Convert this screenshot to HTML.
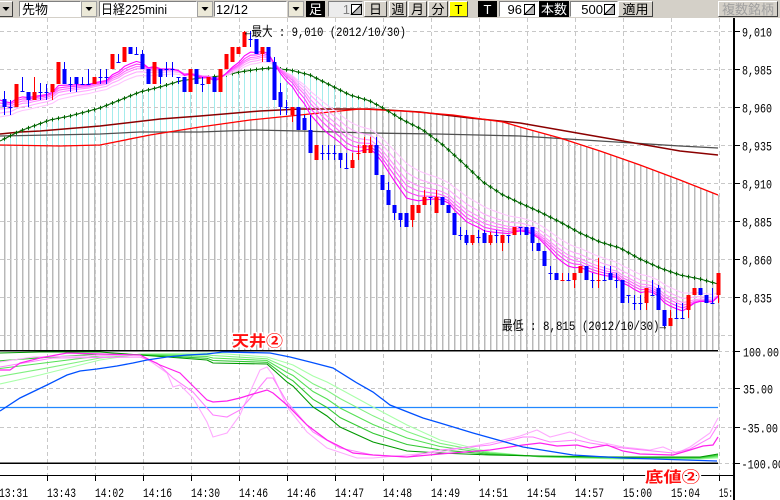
<!DOCTYPE html>
<html><head><meta charset="utf-8">
<style>
html,body{margin:0;padding:0;background:#fff;}
body{width:780px;height:500px;overflow:hidden;}
svg{display:block;}
.m{font-family:"Liberation Mono","Noto Sans CJK JP",monospace;}
.t{font-family:"Liberation Sans","Noto Sans CJK JP",sans-serif;font-size:13px;}
.lab{font-family:"Liberation Sans","Noto Sans CJK JP",sans-serif;font-weight:bold;font-size:15px;}
</style></head><body>
<svg id="s" xmlns="http://www.w3.org/2000/svg" width="780" height="500" viewBox="0 0 780 500">
<rect width="780" height="500" fill="#fff"/>
<g id="bars" shape-rendering="crispEdges"></g>
<g id="grid" shape-rendering="crispEdges" stroke="#c8c8c8" stroke-dasharray="4 3" fill="none"></g>
<g id="lines" fill="none"></g>
<g id="pink" fill="none"></g>
<g id="cand"></g>
<g id="ind" fill="none"></g>
<g id="axis" shape-rendering="crispEdges"></g>
<g id="txt"></g>
<g id="tb"></g>
</svg>
<script>
const S=document.getElementById('s');
const NS='http://www.w3.org/2000/svg';
function E(t,a,p,txt){const e=document.createElementNS(NS,t);for(const k in a)e.setAttribute(k,a[k]);if(txt!=null)e.textContent=txt;(p||S).appendChild(e);return e;}
function G(id){return document.getElementById(id);}
function I(P,x){if(x<=P[0][0])return P[0][1];for(let i=1;i<P.length;i++){if(x<=P[i][0]){const a=P[i-1],b=P[i];return a[1]+(b[1]-a[1])*(x-a[0])/(b[0]-a[0]);}}return P[P.length-1][1];}
function PL(P){return P.map(p=>(+p[0]).toFixed(1)+','+(+p[1]).toFixed(1)).join(' ');}

/* ---------- data ---------- */
const C=[[99,107,91,115,0],[107,107,100,115,0],[107,84,84,107,1],[91,91,77,92,0],[92,100,92,107,0],[100,92,77,100,1],[92,92,83,100,0],[92,92,84,100,0],[92,84,84,100,1],[84,62,62,84,1],
[69,84,62,84,0],[84,84,77,92,0],[77,84,77,92,0],[84,84,77,84,0],[84,84,69,84,0],[84,77,77,84,1],[77,77,69,84,0],[77,77,69,84,0],[69,54,54,69,1],[62,62,54,62,0],
[62,47,47,62,1],[47,54,47,54,0],[54,54,47,54,0],[54,69,50,69,0],[69,84,69,84,0],[84,62,62,84,1],[69,77,69,84,0],[69,69,62,77,0],[69,69,62,77,0],[77,77,77,84,0],
[77,92,77,92,0],[92,69,69,92,1],[69,84,69,84,0],[84,84,77,92,0],[84,77,77,84,1],[77,92,77,92,0],[92,69,69,92,1],[69,54,54,69,1],[62,47,47,62,1],[54,47,47,54,1],
[47,32,31,47,1],[39,39,31,47,0],[39,54,39,54,0],[54,47,47,62,1],[47,62,47,62,0],[62,100,57,100,0],[92,107,83,115,0],[107,107,100,115,0],[115,107,107,122,1],[107,130,107,130,0],
[118,130,115,130,0],[130,153,115,153,0],[160,145,145,160,1],[153,153,145,160,0],[153,153,145,160,0],[153,153,145,160,0],[153,160,153,168,0],[168,168,153,168,0],[168,160,153,168,1],[153,153,145,160,1],
[153,145,137,153,1],[153,145,137,153,1],[145,175,137,175,0],[175,190,175,190,0],[190,205,182,205,0],[205,213,205,220,0],[213,220,213,227,0],[213,227,213,227,0],[220,205,205,227,1],[213,205,205,213,1],
[205,197,190,205,1],[197,197,197,205,0],[213,197,190,213,1],[197,205,197,205,0],[205,213,205,213,0],[213,235,213,235,0],[235,235,227,240,0],[235,243,230,245,0],[243,235,235,245,1],[237,237,230,243,0],
[233,243,230,243,0],[243,235,232,245,1],[235,235,230,243,0],[243,235,235,251,1],[235,235,235,243,0],[235,227,227,235,1],[227,227,227,235,0],[227,235,227,235,0],[227,243,227,251,0],[243,251,243,251,0],
[251,266,251,266,0],[273,273,266,280,0],[273,280,273,280,0],[280,280,273,280,1],[280,280,273,280,0],[280,273,273,288,1],[273,266,266,273,1],[266,280,266,280,0],[280,280,273,288,0],[280,280,258,288,1],
[280,280,266,280,0],[273,280,266,280,0],[280,280,273,288,0],[280,303,280,303,0],[295,295,295,303,0],[303,303,295,310,0],[303,303,295,310,0],[303,288,288,310,1],[295,295,280,295,0],[288,310,285,310,0],
[310,326,310,327,0],[326,318,310,326,1],[318,318,303,318,0],[318,318,303,318,0],[310,295,295,318,1],[295,288,288,295,1],[288,295,288,295,0],[295,303,295,303,0],[303,303,288,303,0],[295,273,273,303,1]];

const GREEN=[[0,141],[20,131],[50,120],[70,116],[100,108],[120,100],[140,92],[160,87],[180,81],[200,78],[220,76],[240,72],[260,69],[270,68],[290,70],[310,75],[330,85],[350,95],[370,101],[383,108],[403,120],[423,130],[443,145],[463,163],[483,182],[503,195],[520,203],[540,212],[560,222],[580,233],[600,242],[620,248],[640,259],[660,268],[680,275],[700,279],[718,284]];
const DRED=[[0,134],[20,132],[40,131],[100,126],[160,119],[200,116],[260,111],[300,109],[370,109],[420,112],[470,118],[520,123],[560,130],[600,137],[640,144],[680,151],[718,155]];
const RED=[[0,145],[60,146],[100,145],[150,135],[200,127],[250,120],[300,115],[360,109],[403,111],[453,115],[503,122],[520,127],[560,138],[600,151],[640,165],[680,180],[718,195]];
const GRAY=[[0,136],[100,134],[140,132],[200,132],[253,130],[300,131],[370,133],[437,134],[520,136],[600,141],[680,146],[718,148]];

/* ---------- bars ---------- */
const B=G('bars');
for(let i=0;i<120;i++){const x=4+6*i;const r=Math.round(I(RED,x)),g=Math.round(I(GREEN,x));
 E('rect',{x:x,y:r,width:1,height:350-r,fill:'#b8b8b8'},B);
 E('rect',{x:x+1,y:r,width:1,height:350-r,fill:'#dedede'},B);
 if(g<r)E('rect',{x:x,y:g,width:1,height:r-g,fill:'#a4ecec'},B);}

/* ---------- grid ---------- */
const GR=G('grid');
[31,69,107,145,183,221,259,297,335,388,427].forEach(y=>E('line',{x1:0,y1:y+.5,x2:734,y2:y+.5},GR));
[351,463].forEach(y=>E('line',{x1:718,y1:y+.5,x2:734,y2:y+.5},GR));
for(let k=0;k<15;k++){const x=47+48*k;E('line',{x1:x+.5,y1:18,x2:x+.5,y2:476},GR);}

/* ---------- main lines ---------- */
const L=G('lines');
E('polyline',{points:PL(GRAY),stroke:'#505050','stroke-width':1.3},L);
E('polyline',{points:PL(DRED),stroke:'#8b0000','stroke-width':1.5},L);
E('polyline',{points:PL(RED),stroke:'#ff0000','stroke-width':1.3},L);
E('polyline',{points:PL(GREEN),stroke:'#006400','stroke-width':1},L);
let md='';for(let i=0;i<120;i++){const x=4+6*i+0.5,y=I(GREEN,x);md+=`M${x-2},${y.toFixed(1)}h4M${x},${(y-2).toFixed(1)}v4`;}
E('path',{d:md,stroke:'#006400','stroke-width':1},L);

/* ---------- pink EMAs ---------- */
const P=G('pink');
const per=[8,10,12,14,17,21],seed=[100,103,106,109,113,117],pc=['#ff00ff','#ff3cff','#ff6cff','#ff90ff','#ffaaff','#ffc4ff'];
for(let k=per.length-1;k>=0;k--){let e=seed[k];const a=2/(per[k]+1);const pts=[[0,e]];
 for(let i=0;i<120;i++){e=e+a*(C[i][1]-e);pts.push([4+6*i+0.5,e]);}
 E('polyline',{points:PL(pts),stroke:pc[k],'stroke-width':1.1},P);}

/* ---------- candles ---------- */
const CD=G('cand');
for(let i=0;i<120;i++){const [o,c,h,l,r]=C[i];const x=4+6*i;const col=r?'#ff0000':'#0000ff';
 E('rect',{x:x,y:h,width:1,height:Math.max(1,l-h),fill:col},CD);
 const t=Math.min(o,c),bh=Math.max(1,Math.abs(o-c));
 E('rect',{x:x-1.5,y:t,width:4,height:bh,fill:col},CD);}

/* ---------- indicator ---------- */
const ID=G('ind');
E('line',{x1:0,y1:407.5,x2:718,y2:407.5,stroke:'#2288ff','stroke-width':1.2},ID);
const GX=[0,40,100,140,207,213,267,287,293,313,327,340,373,407,440,490,540,620,700,718];
const G1=[353,352,352,355,360,363,364,382,386,407,416,427,442,451,453,455,456,457,457,454];
const G5=[384,375,360,354,353,353,357,363,365,376,382,389,407,425,440,452,457,459,459,458];
const gc=['#a8ffa8','#80f080','#55e055','#33c833','#009900'];
[1,0.75,0.5,0.25,0].forEach((t,j)=>{const pts=GX.map((x,i)=>[x,G1[i]+(G5[i]-G1[i])*t]);E('polyline',{points:PL(pts),stroke:gc[j],'stroke-width':1.1},ID);});
const PM=[[0,370],[10,370],[20,363],[40,358],[67,353],[100,354],[140,355],[160,365],[180,373],[195,388],[207,400],[213,402],[227,401],[240,398],[253,394],[267,390],[273,393],[287,405],[307,425],[327,440],[353,453],[373,455],[407,457],[440,454],[490,450],[523,445],[540,443],[557,446],[577,445],[590,448],[607,445],[623,451],[640,454],[673,455],[690,450],[703,446],[713,445],[718,437]];
const PP=[[0,367],[53,358],[140,357],[157,363],[173,378],[193,392],[213,415],[227,417],[240,410],[253,395],[267,378],[273,378],[287,402],[313,432],[340,448],[373,455],[407,457],[440,450],[490,445],[523,437],[533,437],[550,442],[577,440],[590,443],[623,448],[673,453],[690,449],[710,438],[718,425]];
const PLt=[[0,362],[33,357],[140,355],[153,363],[167,373],[173,387],[180,385],[193,398],[207,422],[213,437],[227,433],[240,415],[250,392],[260,370],[267,367],[273,375],[287,407],[307,432],[327,448],[357,458],[373,458],[407,455],[440,452],[490,443],[520,436],[537,430],[550,437],[570,432],[590,440],[623,447],[650,450],[663,447],[677,453],[690,447],[710,433],[718,418]];
E('polyline',{points:PL(PLt),stroke:'#ffaaff','stroke-width':1.1},ID);
E('polyline',{points:PL(PP),stroke:'#ff80ff','stroke-width':1.1},ID);
E('polyline',{points:PL(PM),stroke:'#ff22ee','stroke-width':1.2},ID);
const BLUE=[[0,411],[20,398],[47,385],[67,375],[80,371],[97,369],[117,366],[133,363],[147,360],[167,357],[187,355],[207,354],[223,352],[270,353],[290,357],[310,362],[333,368],[357,383],[373,392],[390,405],[423,418],[440,423],[473,433],[523,447],[573,455],[623,458],[717,461]];
E('polyline',{points:PL(BLUE),stroke:'#0050ff','stroke-width':1.3},ID);

/* ---------- axes ---------- */
const A=G('axis');
E('rect',{x:0,y:350,width:718,height:1.5,fill:'#000'},A);
E('rect',{x:0,y:462.5,width:718,height:1.5,fill:'#000'},A);
E('rect',{x:733,y:18,width:2,height:482,fill:'#000'},A);
E('rect',{x:0,y:475,width:734,height:1,fill:'#000'},A);
for(let k=0;k<15;k++){E('rect',{x:47+48*k,y:476,width:1,height:5,fill:'#000'},A);}
const TX=G('txt');
const py=[['9,010',31],['8,985',69],['8,960',107],['8,935',145],['8,910',183],['8,885',221],['8,860',259],['8,835',297]];
py.forEach(([s,y])=>{E('rect',{x:735,y:y,width:5,height:1,fill:'#000'},A);E('text',{x:742,y:y+5.5,class:'m','font-size':13,textLength:30,lengthAdjust:'spacingAndGlyphs',fill:'#000'},TX,s);});
const iy=[['100.00',351,743,36],['35.00',388,743,30],['-35.00',427,741.5,36.5],['-100.00',463,741.5,42.5]];
iy.forEach(([s,y,x,w])=>{E('rect',{x:735,y:y,width:5,height:1,fill:'#000'},A);E('text',{x:x,y:y+5.5,class:'m','font-size':13,textLength:w,lengthAdjust:'spacingAndGlyphs',fill:'#000'},TX,s);});
const xl=['13:43','14:02','14:16','14:30','14:46','14:46','14:47','14:48','14:49','14:51','14:54','14:57','15:00','15:04'];
E('text',{x:-1,y:497,class:'m','font-size':13,textLength:29,lengthAdjust:'spacingAndGlyphs',fill:'#000'},TX,'13:31');
xl.forEach((s,k)=>E('text',{x:47+48*k,y:497,class:'m','font-size':13,textLength:29,lengthAdjust:'spacingAndGlyphs',fill:'#000'},TX,s));
E('text',{x:719,y:497,class:'m','font-size':13,textLength:14,lengthAdjust:'spacingAndGlyphs',fill:'#000'},TX,'15:');
E('text',{x:245,y:36,class:'m','font-size':13,textLength:161,lengthAdjust:'spacingAndGlyphs',fill:'#000'},TX,'←最大 : 9,010 (2012/10/30)');
E('text',{x:502,y:330,class:'m','font-size':13,textLength:164,lengthAdjust:'spacingAndGlyphs',fill:'#000'},TX,'最低 : 8,815 (2012/10/30)→');
E('text',{x:232,y:346,class:'lab',textLength:51,lengthAdjust:'spacingAndGlyphs',fill:'#ff1010',stroke:'#fff','stroke-width':3,'paint-order':'stroke','stroke-linejoin':'round'},TX,'天井②');
E('text',{x:645,y:482,class:'lab',textLength:55,lengthAdjust:'spacingAndGlyphs',fill:'#ff1010',stroke:'#fff','stroke-width':3,'paint-order':'stroke','stroke-linejoin':'round'},TX,'底値②');

/* ---------- toolbar ---------- */
const T=G('tb');
E('rect',{x:0,y:0,width:780,height:18,fill:'#d4d0c8'},T);
function raised(x,w,fill){E('rect',{x:x,y:1,width:w,height:16,fill:fill||'#d4d0c8'},T);
 E('path',{d:`M${x+.5},16.5V1.5H${x+w-.5}`,stroke:'#fff',fill:'none'},T);
 E('path',{d:`M${x+.5},16.5H${x+w-.5}V1.5`,stroke:'#404040',fill:'none'},T);}
function field(x,w,bg){E('rect',{x:x,y:1,width:w,height:16,fill:bg||'#fff'},T);
 E('path',{d:`M${x+.5},16.5V1.5H${x+w-.5}`,stroke:'#808080',fill:'none'},T);}
function dd(x){E('rect',{x:x+.5,y:1.5,width:15,height:15,fill:'#ece9d8',stroke:'#a0a0a0'},T);
 E('path',{d:`M${x+4.5},7h7l-3.5,4z`,fill:'#000'},T);}
function tx(x,s,o){const a=Object.assign({x:x,y:14,class:'t',fill:'#000'},o||{});return E('text',a,T,s);}
function blk(x,w,s){E('rect',{x:x,y:1,width:w,height:16,fill:'#000'},T);tx(x+w/2,s,{fill:'#fff','text-anchor':'middle'});}
function spin(x){E('rect',{x:x+.5,y:4.5,width:10,height:10,fill:'#fff',stroke:'#000'},T);E('path',{d:`M${x+.5},14.5L${x+10.5},4.5V14.5Z`,fill:'#b8b8b8',stroke:'#000'},T);}
raised(-2,15);E('path',{d:'M2.5,7h7l-3.5,4z',fill:'#000'},T);
field(19,62);tx(22,'先物');
dd(81);
field(99,98);tx(101,'日経225mini',{textLength:66,lengthAdjust:'spacingAndGlyphs'});
dd(197);
field(214,73);tx(216,'12/12',{textLength:32,lengthAdjust:'spacingAndGlyphs'});
dd(288);
blk(306,19,'足');
field(328,35,'#ececec');tx(350,'1',{'text-anchor':'end',fill:'#808080'});spin(351);
raised(364,23);tx(375.5,'日',{'text-anchor':'middle'});
raised(389,18);tx(398,'週',{'text-anchor':'middle'});
raised(408,19);tx(417.5,'月',{'text-anchor':'middle'});
raised(428,20);tx(438,'分',{'text-anchor':'middle'});
raised(449,19,'#ffff00');tx(458.5,'T',{'text-anchor':'middle'});
blk(478,19,'T');
field(499,40);tx(522,'96',{'text-anchor':'end'});spin(524);
blk(539,30,'本数');
field(570,48);tx(603,'500',{'text-anchor':'end'});spin(604);
raised(618,35);tx(635.5,'適用',{'text-anchor':'middle'});
raised(718,60);tx(748,'複数銘柄',{'text-anchor':'middle',fill:'#a0a0a0'});
</script>
</body></html>
